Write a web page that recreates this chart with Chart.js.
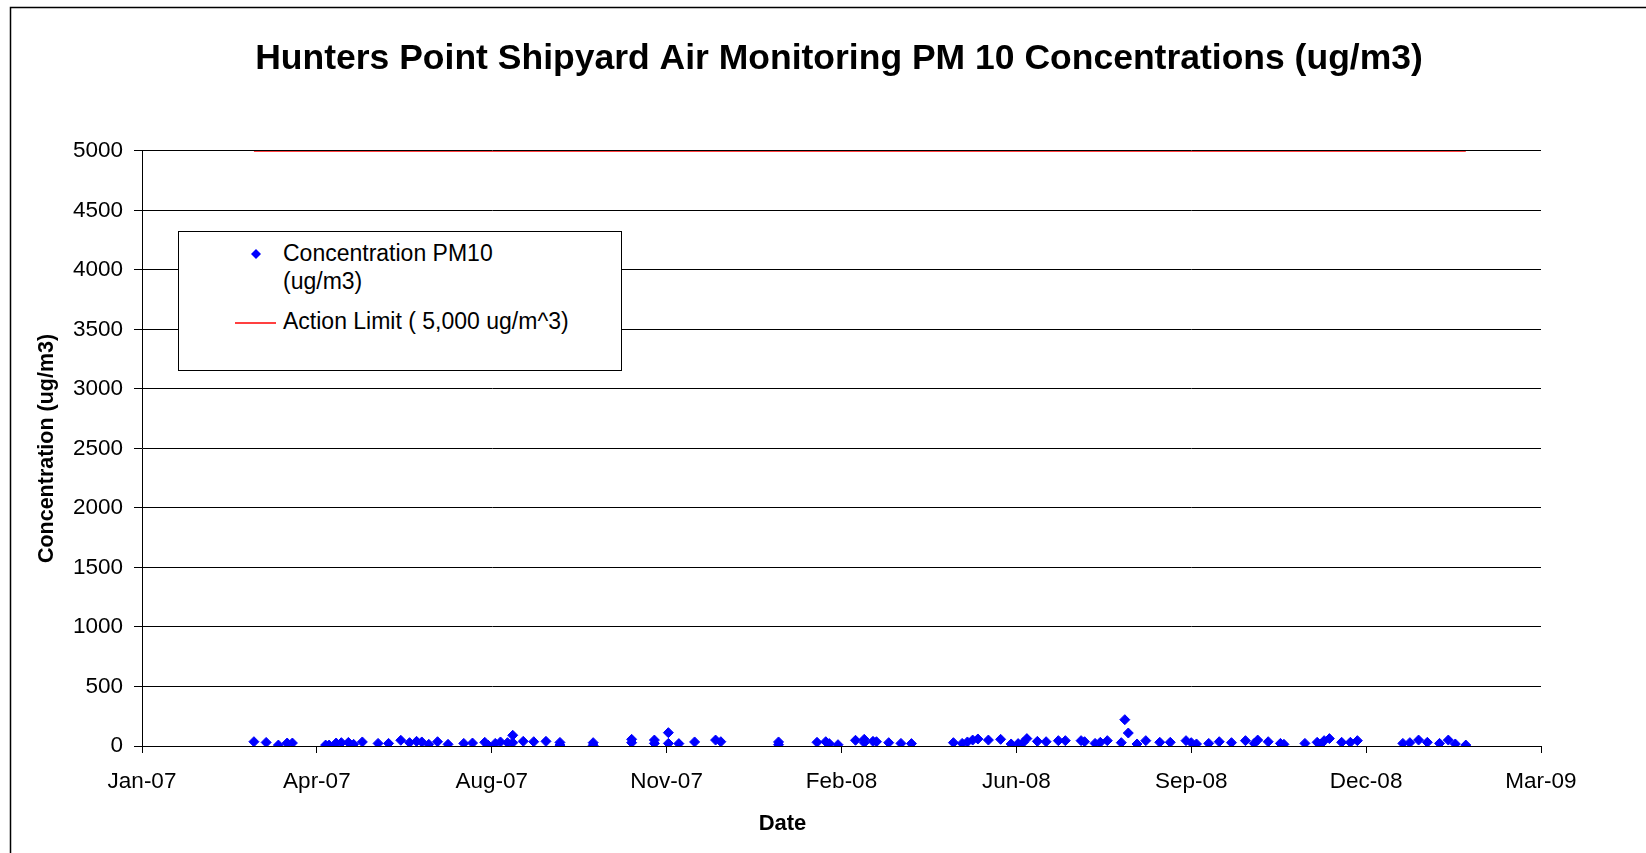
<!DOCTYPE html>
<html>
<head>
<meta charset="utf-8">
<title>Hunters Point Shipyard Air Monitoring PM 10</title>
<script src="https://cdn.jsdelivr.net/npm/chart.js@4.4.1/dist/chart.umd.min.js"></script>
<style>
    html, body { margin: 0; padding: 0; background: #fff; }
    #wrap { position: relative; width: 1646px; height: 853px; overflow: hidden; }
    #legend {
        position: absolute; left: 178px; top: 231px; width: 444px; height: 140px;
        box-sizing: border-box; border: 1px solid #000; background: #fff;
        font-family: Arial, "Liberation Sans", sans-serif; font-size: 23px; color: #000;
    }
    #legend .text { position: absolute; left: 104px; line-height: 28.3px; white-space: normal; }
    #legend svg { position: absolute; }
</style>
</head>
<body>
<div id="wrap">
    <canvas id="chart" width="1646" height="853"></canvas>
    <div id="legend"></div>
</div>
<script>
// sample dates are Excel serial day numbers (39100 = 18 Jan 2007)
const sampleDates = [
    39164, 39171, 39178, 39183, 39186, 39205, 39207, 39211, 39214, 39218,
    39221, 39226, 39235, 39241, 39248, 39253, 39257, 39260, 39264, 39269,
    39275, 39284, 39289, 39296, 39298, 39302, 39305, 39309, 39312, 39312,
    39318, 39324, 39331, 39339, 39339, 39358, 39358, 39380, 39380, 39393,
    39393, 39401, 39401, 39407, 39416, 39428, 39431, 39464, 39464, 39486,
    39491, 39493, 39498, 39508, 39513, 39513, 39518, 39520, 39527, 39534,
    39540, 39564, 39569, 39572, 39575, 39578, 39584, 39591, 39597, 39601,
    39604, 39606, 39612, 39617, 39624, 39628, 39637, 39639, 39645, 39648,
    39652, 39660, 39662, 39664, 39669, 39674, 39682, 39688, 39697, 39700,
    39703, 39710, 39716, 39723, 39731, 39736, 39738, 39744, 39751, 39753,
    39765, 39772, 39774, 39776, 39779, 39786, 39791, 39795, 39821, 39825,
    39830, 39835, 39842, 39847, 39851, 39857
];
const pm10Values = [
    36, 30, 8, 25, 25, 8, 8, 25, 28, 30,
    14, 34, 22, 22, 48, 28, 39, 34, 14, 36,
    14, 22, 25, 31, 6, 22, 34, 28, 90, 28,
    39, 36, 39, 30, 8, 28, 6, 56, 28, 50,
    22, 112, 22, 20, 34, 50, 36, 34, 11, 31,
    36, 20, 11, 48, 56, 28, 39, 36, 28, 22,
    20, 28, 22, 34, 50, 59, 50, 56, 17, 20,
    31, 62, 39, 36, 45, 45, 45, 36, 22, 31,
    45, 28, 221, 109, 17, 45, 31, 31, 45, 28,
    17, 22, 36, 28, 45, 22, 50, 36, 22, 14,
    22, 31, 14, 45, 62, 31, 31, 45, 22, 28,
    50, 31, 22, 50, 17, 8
];
const ACTION_LIMIT = 5000;
const xTicks = [39100, 39200, 39300, 39400, 39500, 39600, 39700, 39800, 39900];
const yTicks = [0, 500, 1000, 1500, 2000, 2500, 3000, 3500, 4000, 4500, 5000];

const MONTHS = ["Jan", "Feb", "Mar", "Apr", "May", "Jun", "Jul", "Aug", "Sep", "Oct", "Nov", "Dec"];
const FONT = "Arial, 'Liberation Sans', sans-serif";
const TITLE_CENTER = 839;
const DATE_TITLE_SHIFT = -59;

function serialToLabel(serial) {
    const d = new Date((serial - 25569) * 86400000);
    return MONTHS[d.getUTCMonth()] + "-" + String(d.getUTCFullYear()).slice(2);
}

const pm10Points = sampleDates.map((d, i) => ({x: d, y: pm10Values[i]}));
const limitPoints = [sampleDates[0], sampleDates[sampleDates.length - 1]].map(d => ({x: d, y: ACTION_LIMIT}));

// white page, chart frame, and nudges so titles sit where Excel put them
const framePlugin = {
    id: "frame",
    afterLayout(chart) {
        const t = chart.titleBlock;
        const shift = TITLE_CENTER - (t.left + t.right) / 2;
        t.left += shift;
        t.right += shift;
        const xs = chart.scales.x;
        if (!xs._shifted) {
            const orig = xs.drawTitle;
            xs.drawTitle = function () {
                this.ctx.save();
                this.ctx.translate(DATE_TITLE_SHIFT, 0);
                orig.call(this);
                this.ctx.restore();
            };
            xs._shifted = true;
        }
    },
    beforeDraw(chart) {
        const ctx = chart.ctx;
        ctx.save();
        ctx.fillStyle = "#fff";
        ctx.fillRect(0, 0, chart.width, chart.height);
        ctx.strokeStyle = "#000";
        ctx.lineWidth = 1.5;
        ctx.strokeRect(10.5, 7.5, 2000, 2000);
        ctx.restore();
    }
};

const chart = new Chart(document.getElementById("chart"), {
    data: {
        datasets: [
            {
                type: "scatter",
                label: "Concentration PM10 (ug/m3)",
                data: pm10Points,
                pointStyle: "rectRot",
                pointRadius: 5,
                pointBackgroundColor: "#0000ff",
                pointBorderColor: "#0000ff",
                pointBorderWidth: 1,
                showLine: false
            },
            {
                type: "line",
                label: "Action Limit ( 5,000 ug/m^3)",
                data: limitPoints,
                borderColor: "#ff0000",
                borderWidth: 1.5,
                pointRadius: 0,
                fill: false
            }
        ]
    },
    options: {
        responsive: false,
        animation: false,
        layout: {padding: {left: 0, right: 105, top: 0, bottom: 0}},
        plugins: {
            legend: {display: false},
            tooltip: {enabled: false},
            title: {
                display: true,
                text: "Hunters Point Shipyard Air Monitoring PM 10 Concentrations (ug/m3)",
                color: "#000",
                font: {family: FONT, size: 35.5, weight: "bold"},
                padding: {top: 37.5, bottom: 70.8}
            }
        },
        scales: {
            x: {
                type: "linear",
                min: xTicks[0],
                max: xTicks[xTicks.length - 1],
                afterBuildTicks: scale => { scale.ticks = xTicks.map(v => ({value: v})); },
                afterFit: scale => { scale.height = 107; },
                grid: {display: true, drawOnChartArea: false, drawTicks: true, tickLength: 7, color: "#000"},
                border: {color: "#000", width: 1},
                ticks: {
                    color: "#000",
                    font: {family: FONT, size: 22.5},
                    padding: 15,
                    maxRotation: 0,
                    autoSkip: false,
                    callback: v => serialToLabel(v)
                },
                title: {
                    display: true,
                    text: "Date",
                    color: "#000",
                    font: {family: FONT, size: 22, weight: "bold"},
                    padding: {top: 0, bottom: 15.8}
                }
            },
            y: {
                min: yTicks[0],
                max: yTicks[yTicks.length - 1],
                afterBuildTicks: scale => { scale.ticks = yTicks.map(v => ({value: v})); },
                afterFit: scale => { scale.width = 142; },
                grid: {color: "#000", lineWidth: 1, tickLength: 8},
                border: {color: "#000", width: 1},
                ticks: {
                    color: "#000",
                    font: {family: FONT, size: 22.5},
                    padding: 11,
                    callback: v => String(v)
                },
                title: {
                    display: true,
                    text: "Concentration (ug/m3)",
                    color: "#000",
                    font: {family: FONT, size: 21.5, weight: "bold"},
                    padding: {top: 34, bottom: 0}
                }
            }
        }
    },
    plugins: [framePlugin]
});

// legend box built from the chart's datasets
function buildLegend() {
    const box = document.getElementById("legend");
    const sets = chart.data.datasets;

    const marker = document.createElementNS("http://www.w3.org/2000/svg", "svg");
    marker.setAttribute("width", "10");
    marker.setAttribute("height", "10");
    marker.style.left = "72px";
    marker.style.top = "17.3px";
    marker.innerHTML = '<polygon points="5,0 10,5 5,10 0,5" fill="' + sets[0].pointBackgroundColor + '"/>';
    box.appendChild(marker);

    const t1 = document.createElement("div");
    t1.className = "text";
    t1.style.top = "7px";
    t1.style.width = "240px";
    t1.textContent = sets[0].label;
    box.appendChild(t1);

    const line = document.createElementNS("http://www.w3.org/2000/svg", "svg");
    line.setAttribute("width", "42");
    line.setAttribute("height", "4");
    line.style.left = "56px";
    line.style.top = "88.5px";
    line.innerHTML = '<line x1="0" y1="2" x2="41" y2="2" stroke="' + sets[1].borderColor + '" stroke-width="1.3"/>';
    box.appendChild(line);

    const t2 = document.createElement("div");
    t2.className = "text";
    t2.style.top = "75px";
    t2.style.whiteSpace = "nowrap";
    t2.textContent = sets[1].label;
    box.appendChild(t2);
}
buildLegend();
</script>
</body>
</html>
